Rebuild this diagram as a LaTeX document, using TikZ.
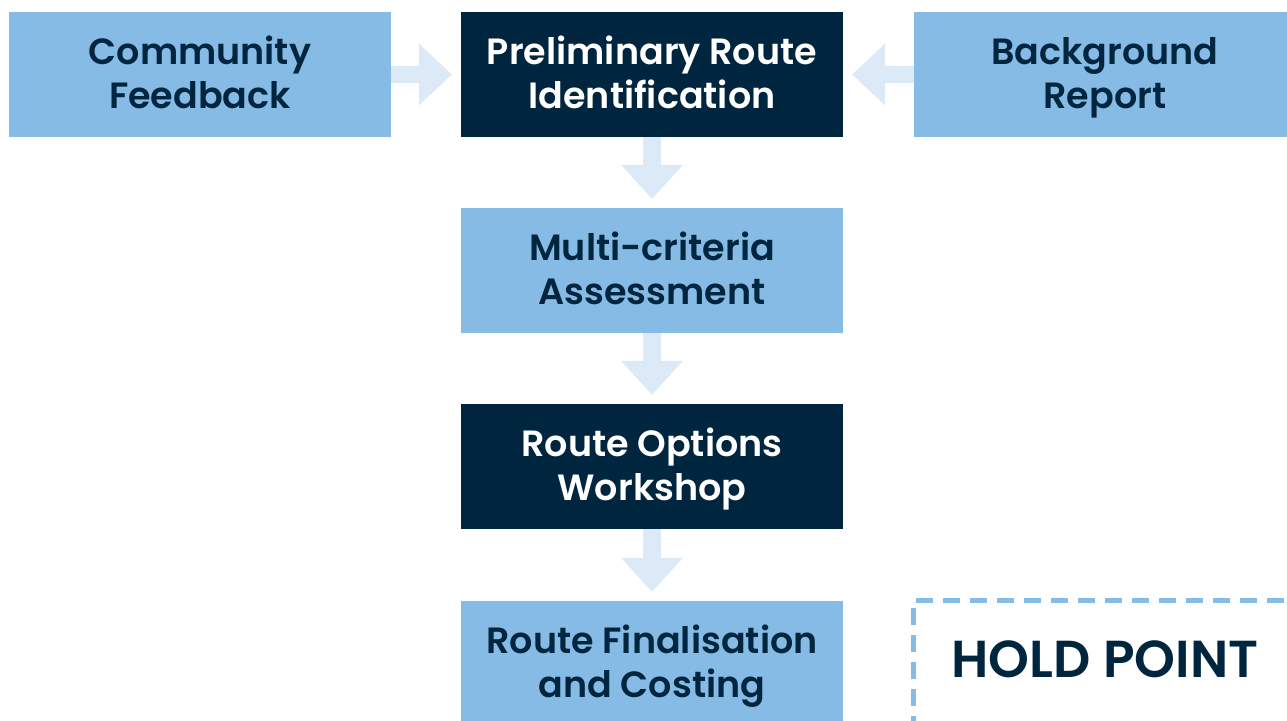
\documentclass[tikz,border=0pt]{standalone}
\usepackage{fontspec}
\setmainfont{Poppins}[UprightFont=* SemiBold]
\usetikzlibrary{calc}
\definecolor{lightbox}{HTML}{86BBE6}
\definecolor{darkbox}{HTML}{00263F}
\definecolor{arrowblue}{HTML}{DCEAF8}
\definecolor{navytext}{HTML}{00263F}
\newcommand\topstrut{\rule{0pt}{34pt}}
\newcommand\botstrut{\rule[-11pt]{0pt}{11pt}}
\newcommand\twolines[2]{\topstrut#1\\#2\botstrut}
\tikzset{
  box/.style={minimum width=382pt, minimum height=125pt, inner sep=0pt, align=center,
    font=\fontsize{36.5}{44}\selectfont},
  lightstep/.style={box, fill=lightbox, text=navytext},
  darkstep/.style={box, fill=darkbox, text=white},
  arr/.style={fill=arrowblue},
  holdline/.style={draw=lightbox, line width=5pt, dash pattern=on 17pt off 10pt},
}
\newcommand\rightarr[2]{%
  \fill[arr] ($(#1.east)+(0,-8.5)$) -- ($(#2.west)+(-42,-8.5)$) -- ($(#2.west)+(-42,-31)$)
    -- ($(#2.west)+(-9,0)$) -- ($(#2.west)+(-42,31)$) -- ($(#2.west)+(-42,8.5)$)
    -- ($(#1.east)+(0,8.5)$) -- cycle;}
\newcommand\leftarr[2]{%
  \fill[arr] ($(#1.west)+(0,-8.5)$) -- ($(#2.east)+(42,-8.5)$) -- ($(#2.east)+(42,-31)$)
    -- ($(#2.east)+(9,0)$) -- ($(#2.east)+(42,31)$) -- ($(#2.east)+(42,8.5)$)
    -- ($(#1.west)+(0,8.5)$) -- cycle;}
\newcommand\downarr[2]{%
  \fill[arr] ($(#1.south)+(-9,0)$) -- ($(#2.north)+(-9,-43)$) -- ($(#2.north)+(-31,-43)$)
    -- ($(#2.north)+(0,-9)$) -- ($(#2.north)+(31,-43)$) -- ($(#2.north)+(9,-43)$)
    -- ($(#1.south)+(9,0)$) -- cycle;}
\begin{document}
\begin{tikzpicture}[x=1pt,y=-1pt]
\useasboundingbox (0,0) rectangle (1287,720);
\clip (0,0) rectangle (1287,720);
\fill[white] (0,0) rectangle (1287,720);
\node[lightstep] (cf) at (200,74.5) {\twolines{Community}{Feedback}};
\node[darkstep] (pri) at (652,74.5) {\twolines{Preliminary Route}{Identification}};
\node[lightstep] (bg) at (1105,74.5) {\twolines{Background}{Report}};
\node[lightstep] (mca) at (652,270.5) {\twolines{Multi-criteria}{Assessment}};
\node[darkstep] (row) at (652,466.5) {\twolines{Route Options}{Workshop}};
\node[lightstep] (rfc) at (652,663.5) {\twolines{Route Finalisation}{and Costing}};
\rightarr{cf}{pri}
\leftarr{bg}{pri}
\downarr{pri}{mca}
\downarr{mca}{row}
\downarr{row}{rfc}
\draw[holdline] (913.5,760) -- (913.5,600.5) -- (1300,600.5);
\node[anchor=base, text=navytext, inner sep=0pt, font=\fontsize{52}{62}\selectfont] (hold) at (1105,677) {HOLD POINT};
\end{tikzpicture}
\end{document}
